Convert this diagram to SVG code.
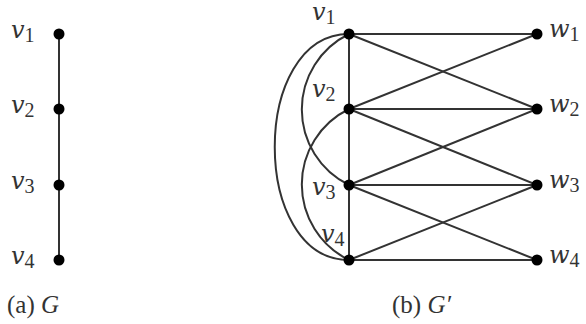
<svg xmlns="http://www.w3.org/2000/svg" width="586" height="324" viewBox="0 0 586 324">
<style>
.e{stroke:#333;stroke-width:2;fill:none}
.n{fill:#000}
.l{font-family:"DejaVu Serif",serif;font-style:italic;font-size:24px;fill:#333}
.s{font-family:"Liberation Serif",serif;font-size:20px;fill:#333;font-style:normal}
.c{font-family:"Liberation Serif",serif;font-size:25px;fill:#333}
</style>
<rect width="586" height="324" fill="#fff"/>
<g id="connectors">
<line class="e" x1="59" y1="34" x2="59" y2="260"/>
<line class="e" x1="349" y1="34" x2="349" y2="260"/>
<line class="e" x1="349" y1="34" x2="537" y2="34"/>
<line class="e" x1="349" y1="109" x2="537" y2="109"/>
<line class="e" x1="349" y1="185" x2="537" y2="185"/>
<line class="e" x1="349" y1="260" x2="537" y2="260"/>
<line class="e" x1="349" y1="34" x2="537" y2="109"/>
<line class="e" x1="349" y1="109" x2="537" y2="34"/>
<line class="e" x1="349" y1="109" x2="537" y2="185"/>
<line class="e" x1="349" y1="185" x2="537" y2="109"/>
<line class="e" x1="349" y1="185" x2="537" y2="260"/>
<line class="e" x1="349" y1="260" x2="537" y2="185"/>
<path class="e" d="M349,34 C250,34 250,260 349,260"/>
<path class="e" d="M349,34 A84,84 0 0 0 349,185"/>
<path class="e" d="M349,109 A84,84 0 0 0 349,260"/>
</g>
<g id="G-v1"><circle class="n" cx="59" cy="34" r="5.5"/><text class="l" x="11" y="38">v<tspan class="s" dy="4">1</tspan></text></g>
<g id="G-v2"><circle class="n" cx="59" cy="109" r="5.5"/><text class="l" x="11" y="113">v<tspan class="s" dy="4">2</tspan></text></g>
<g id="G-v3"><circle class="n" cx="59" cy="185" r="5.5"/><text class="l" x="11" y="189">v<tspan class="s" dy="4">3</tspan></text></g>
<g id="G-v4"><circle class="n" cx="59" cy="260" r="5.5"/><text class="l" x="11" y="264">v<tspan class="s" dy="4">4</tspan></text></g>
<g id="Gp-v1"><circle class="n" cx="349" cy="34" r="5.5"/><text class="l" x="312" y="20">v<tspan class="s" dy="4">1</tspan></text></g>
<g id="Gp-v2"><circle class="n" cx="349" cy="109" r="5.5"/><text class="l" x="312" y="97">v<tspan class="s" dy="4">2</tspan></text></g>
<g id="Gp-v3"><circle class="n" cx="349" cy="185" r="5.5"/><text class="l" x="312" y="195">v<tspan class="s" dy="4">3</tspan></text></g>
<g id="Gp-v4"><circle class="n" cx="349" cy="260" r="5.5"/><text class="l" x="321" y="242">v<tspan class="s" dy="4">4</tspan></text></g>
<g id="Gp-w1"><circle class="n" cx="537" cy="34" r="5.5"/><text class="l" x="549" y="37">w<tspan class="s" dy="4">1</tspan></text></g>
<g id="Gp-w2"><circle class="n" cx="537" cy="109" r="5.5"/><text class="l" x="549" y="112">w<tspan class="s" dy="4">2</tspan></text></g>
<g id="Gp-w3"><circle class="n" cx="537" cy="185" r="5.5"/><text class="l" x="549" y="188">w<tspan class="s" dy="4">3</tspan></text></g>
<g id="Gp-w4"><circle class="n" cx="537" cy="260" r="5.5"/><text class="l" x="549" y="263">w<tspan class="s" dy="4">4</tspan></text></g>
<text class="c" x="7" y="313">(a) <tspan font-style="italic">G</tspan></text>
<text class="c" x="392" y="313">(b) <tspan font-style="italic">G′</tspan></text>
</svg>
